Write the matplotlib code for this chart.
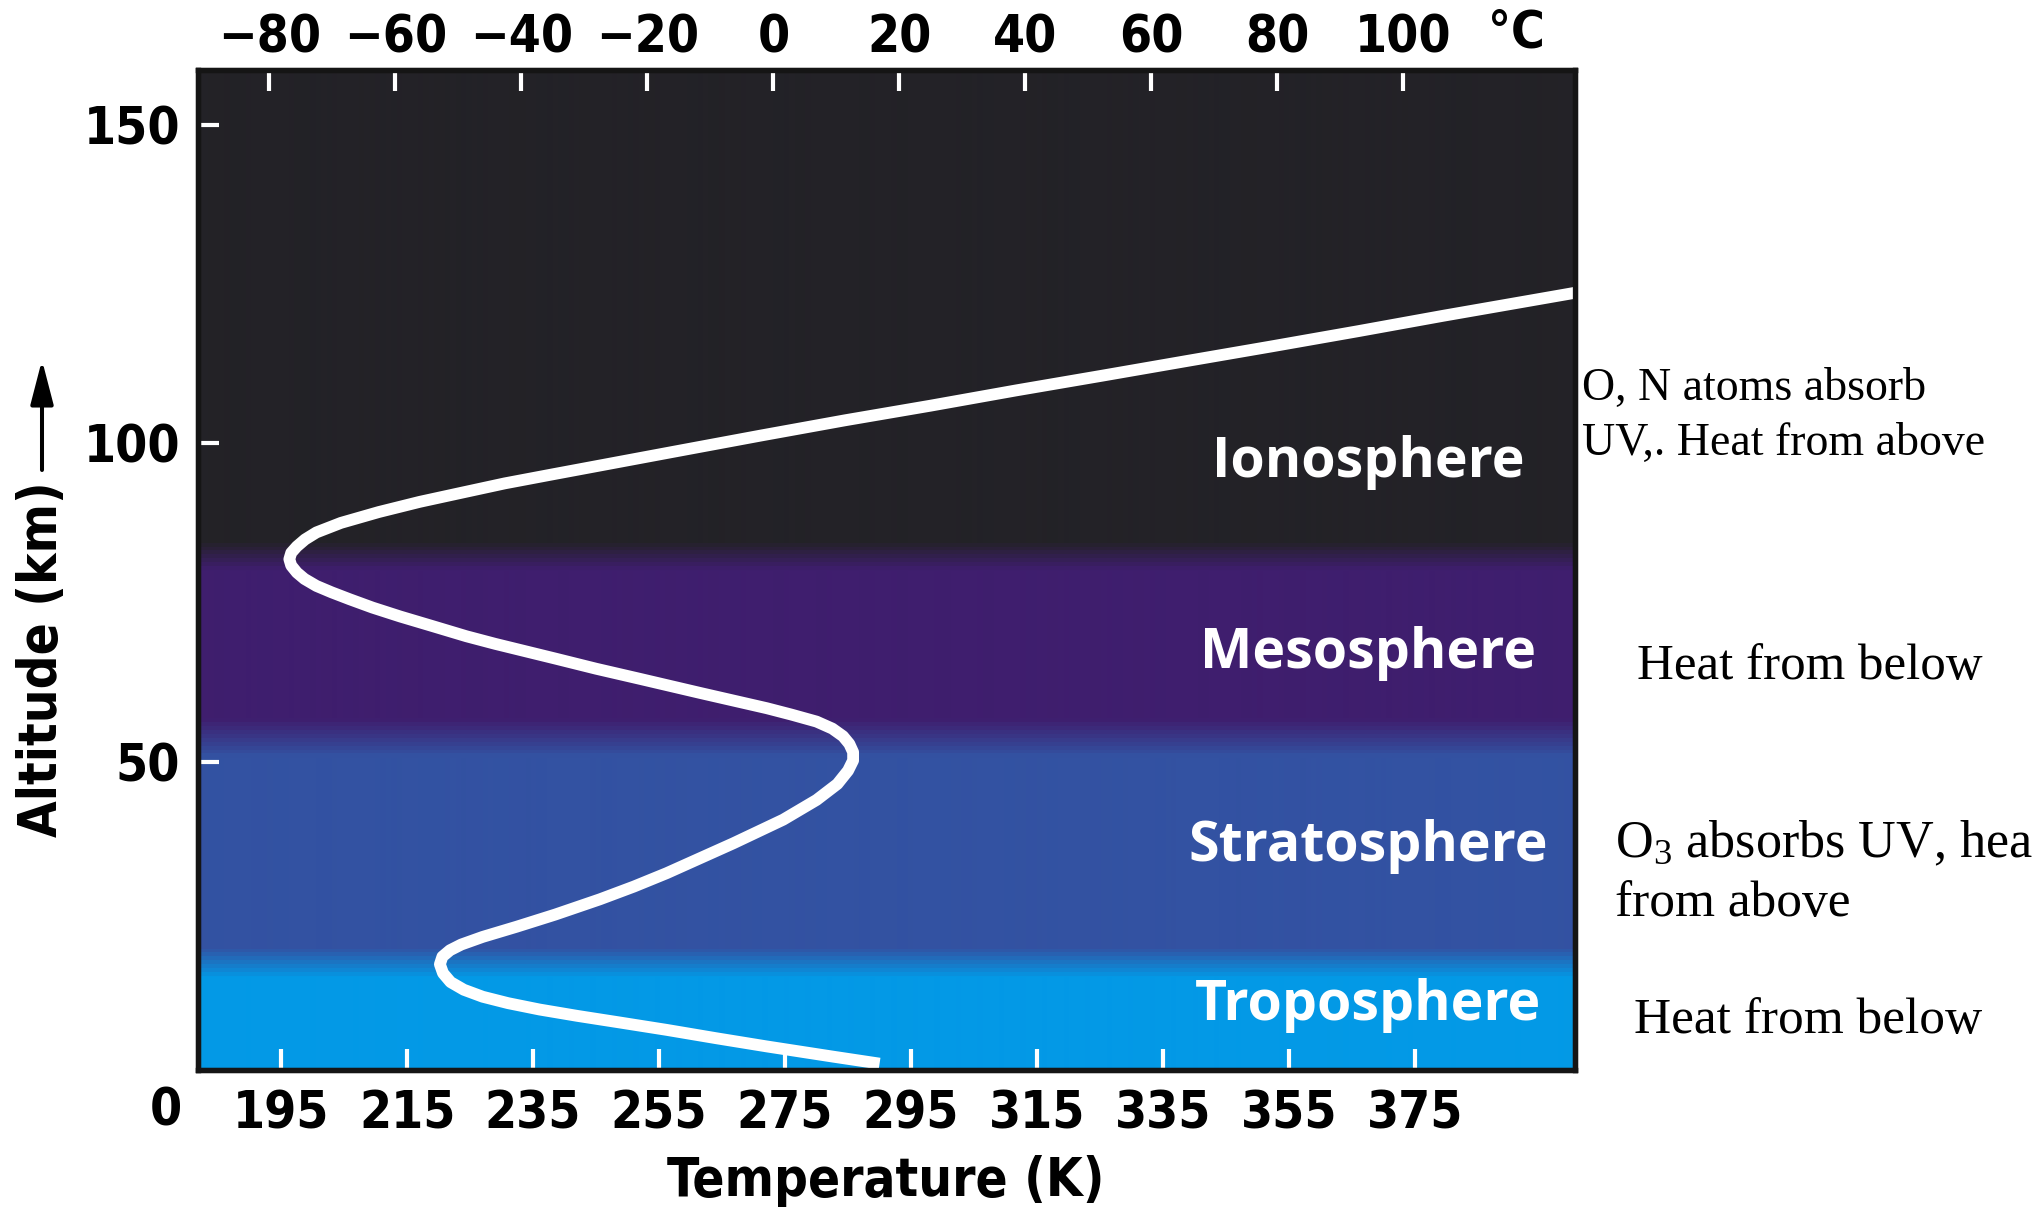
import numpy as np
import matplotlib
matplotlib.use("Agg")
import matplotlib.pyplot as plt
from matplotlib.colors import LinearSegmentedColormap
from matplotlib.font_manager import FontProperties
from matplotlib.patches import FancyArrowPatch, ArrowStyle

# ---------------- data ----------------
temperature_k = [290.0, 282.6, 272.1, 264.0, 256.2, 248.5, 242.0, 236.0, 231.0, 227.0,
                 224.0, 221.9, 220.7, 220.2, 220.6, 221.8, 223.6, 227.0, 232.4, 238.5,
                 245.6, 251.0, 256.2, 266.8, 274.7, 280.0, 283.3, 285.0, 285.8, 285.8,
                 285.2, 284.2, 282.5, 280.0, 276.0, 272.1, 261.5, 252.0, 245.0, 238.5,
                 229.0, 224.4, 219.0, 213.9, 209.5, 205.9, 203.0, 200.6, 198.7, 197.5,
                 196.6, 196.3, 196.6, 197.5, 198.8, 200.6, 204.5, 210.5, 217.0, 223.5,
                 230.5, 238.0, 244.5, 257.5, 271.1, 284.5, 298.1, 311.7, 325.3, 338.7,
                 352.2, 366.0, 379.4, 391.0, 402.0]
altitude_km = [2.6, 3.7, 5.3, 6.6, 7.9, 9.1, 10.1, 11.1, 12.1, 13.1,
               14.2, 15.4, 16.8, 18.2, 19.4, 20.4, 21.3, 22.5, 24.1, 26.0,
               28.4, 30.4, 32.5, 37.2, 40.9, 44.0, 46.5, 48.6, 50.2, 51.5,
               52.8, 54.0, 55.2, 56.3, 57.4, 58.4, 60.8, 63.0, 64.6, 66.2,
               68.5, 69.7, 71.3, 72.8, 74.2, 75.5, 76.6, 77.6, 78.7, 79.7,
               80.8, 81.8, 82.8, 83.8, 84.9, 86.0, 87.5, 89.2, 90.8, 92.2,
               93.7, 95.1, 96.3, 98.7, 101.2, 103.6, 105.9, 108.3, 110.6, 112.9,
               115.2, 117.6, 120.0, 122.0, 123.9]

layer_names = ["Troposphere", "Stratosphere", "Mesosphere", "Ionosphere"]
layer_label_alt = [11.7, 36.7, 67.0, 97.0]
layer_label_temp = 367.6

# background colour stops: (altitude km, colour)
bg_stops = [(15.8, "#0399e6"), (20.5, "#3352a2"), (50.8, "#3352a2"),
            (56.6, "#3f1e6e"), (80.2, "#3f1e6e"), (84.6, "#232227")]

kelvin_ticks = [195, 215, 235, 255, 275, 295, 315, 335, 355, 375]
celsius_ticks = [-80, -60, -40, -20, 0, 20, 40, 60, 80, 100]
altitude_ticks = [50, 100, 150]

notes = [
    ("O, N atoms absorb", 1582, 400, 33),
    ("UV,. Heat from above", 1582, 455, 33),
    ("Heat from below", 1637, 679, 36.7),
    (r"$\mathregular{O_3}$ absorbs UV, heat", 1615, 857, 37.5),
    ("from above", 1615, 916, 37),
    ("Heat from below", 1634, 1033, 37),
]

# ---------------- figure ----------------
W, H = 2032, 1212
fig = plt.figure(figsize=(W / 100, H / 100), dpi=100)
fig.patch.set_facecolor("white")

xlim = (181.8, 400.4)
ylim = (1.6, 158.6)
ax = fig.add_axes([198 / W, 1 - 1070 / H, (1575 - 198) / W, (1070 - 70) / H])
ax.set_xlim(*xlim)
ax.set_ylim(*ylim)

# gradient background
span = ylim[1] - ylim[0]
stops = ([(0.0, bg_stops[0][1])] + [((a - ylim[0]) / span, c) for a, c in bg_stops]
         + [(1.0, bg_stops[-1][1])])
cmap = LinearSegmentedColormap.from_list("atm", stops)
grad = np.linspace(ylim[0], ylim[1], 1000)[:, None]
ax.imshow(grad, extent=(xlim[0], xlim[1], ylim[0], ylim[1]), origin="lower",
          aspect="auto", cmap=cmap, vmin=ylim[0], vmax=ylim[1], zorder=0,
          interpolation="bilinear")

# temperature profile
ax.plot(temperature_k, altitude_km, color="white", lw=8.5, solid_joinstyle="round",
        solid_capstyle="butt", zorder=3)

# layer labels
layer_fp = FontProperties(family=["Open Sans", "DejaVu Sans"], weight="bold", size=40)
for name, alt in zip(layer_names, layer_label_alt):
    ax.text(layer_label_temp, alt, name, color="white", ha="center", va="center",
            fontproperties=layer_fp, zorder=4)

# ticks
tick_fp = FontProperties(family="DejaVu Sans", weight="bold", stretch="condensed", size=37)
ax.set_xticks(kelvin_ticks)
ax.set_yticks(altitude_ticks)
ax.tick_params(axis="x", direction="in", color="white", length=15, width=3,
               pad=14, labelcolor="black")
ax.tick_params(axis="y", direction="in", color="white", length=15, width=3,
               pad=13, labelcolor="black")
for lbl in ax.get_xticklabels() + ax.get_yticklabels():
    lbl.set_fontproperties(tick_fp)

ax2 = ax.twiny()
ax2.set_xlim(xlim[0] - 273.15, xlim[1] - 273.15)
ax2.set_xticks(celsius_ticks)
ax2.tick_params(axis="x", direction="in", color="white", length=15, width=3,
                pad=5, labelcolor="black")
for lbl in ax2.get_xticklabels():
    lbl.set_fontproperties(tick_fp)

for a in (ax, ax2):
    for s in a.spines.values():
        s.set_linewidth(3.8)
        s.set_color("#151515")

fig.text(1516 / W, 1 - 33 / H, "°C", fontproperties=tick_fp, ha="center", va="center")
fig.text(166 / W, 1 - 1111 / H, "0", fontproperties=tick_fp, ha="center", va="center")

# axis labels
label_fp = FontProperties(family="DejaVu Sans", weight="bold", stretch="condensed", size=38)
fig.text(886 / W, 1 - 1181 / H, "Temperature (K)", fontproperties=label_fp,
         ha="center", va="center")
fig.text(42 / W, 1 - 659 / H, "Altitude (km)", fontproperties=label_fp, rotation=90,
         ha="center", va="center")
arrow = FancyArrowPatch((42 / W, 1 - 470 / H), (42 / W, 1 - 360 / H),
                        transform=fig.transFigure,
                        arrowstyle=ArrowStyle("-|>", head_length=27, head_width=7),
                        mutation_scale=1, lw=2.9, color="black", shrinkA=0, shrinkB=0)
fig.add_artist(arrow)

# notes on the right (the O3 line runs off the right edge, as in the reference)
for txt, x, y, size in notes:
    fig.text(x / W, 1 - y / H, txt, family=["Liberation Serif", "DejaVu Serif"],
             fontsize=size, ha="left", va="baseline", color="black")

fig.savefig("out.png", dpi=100)
